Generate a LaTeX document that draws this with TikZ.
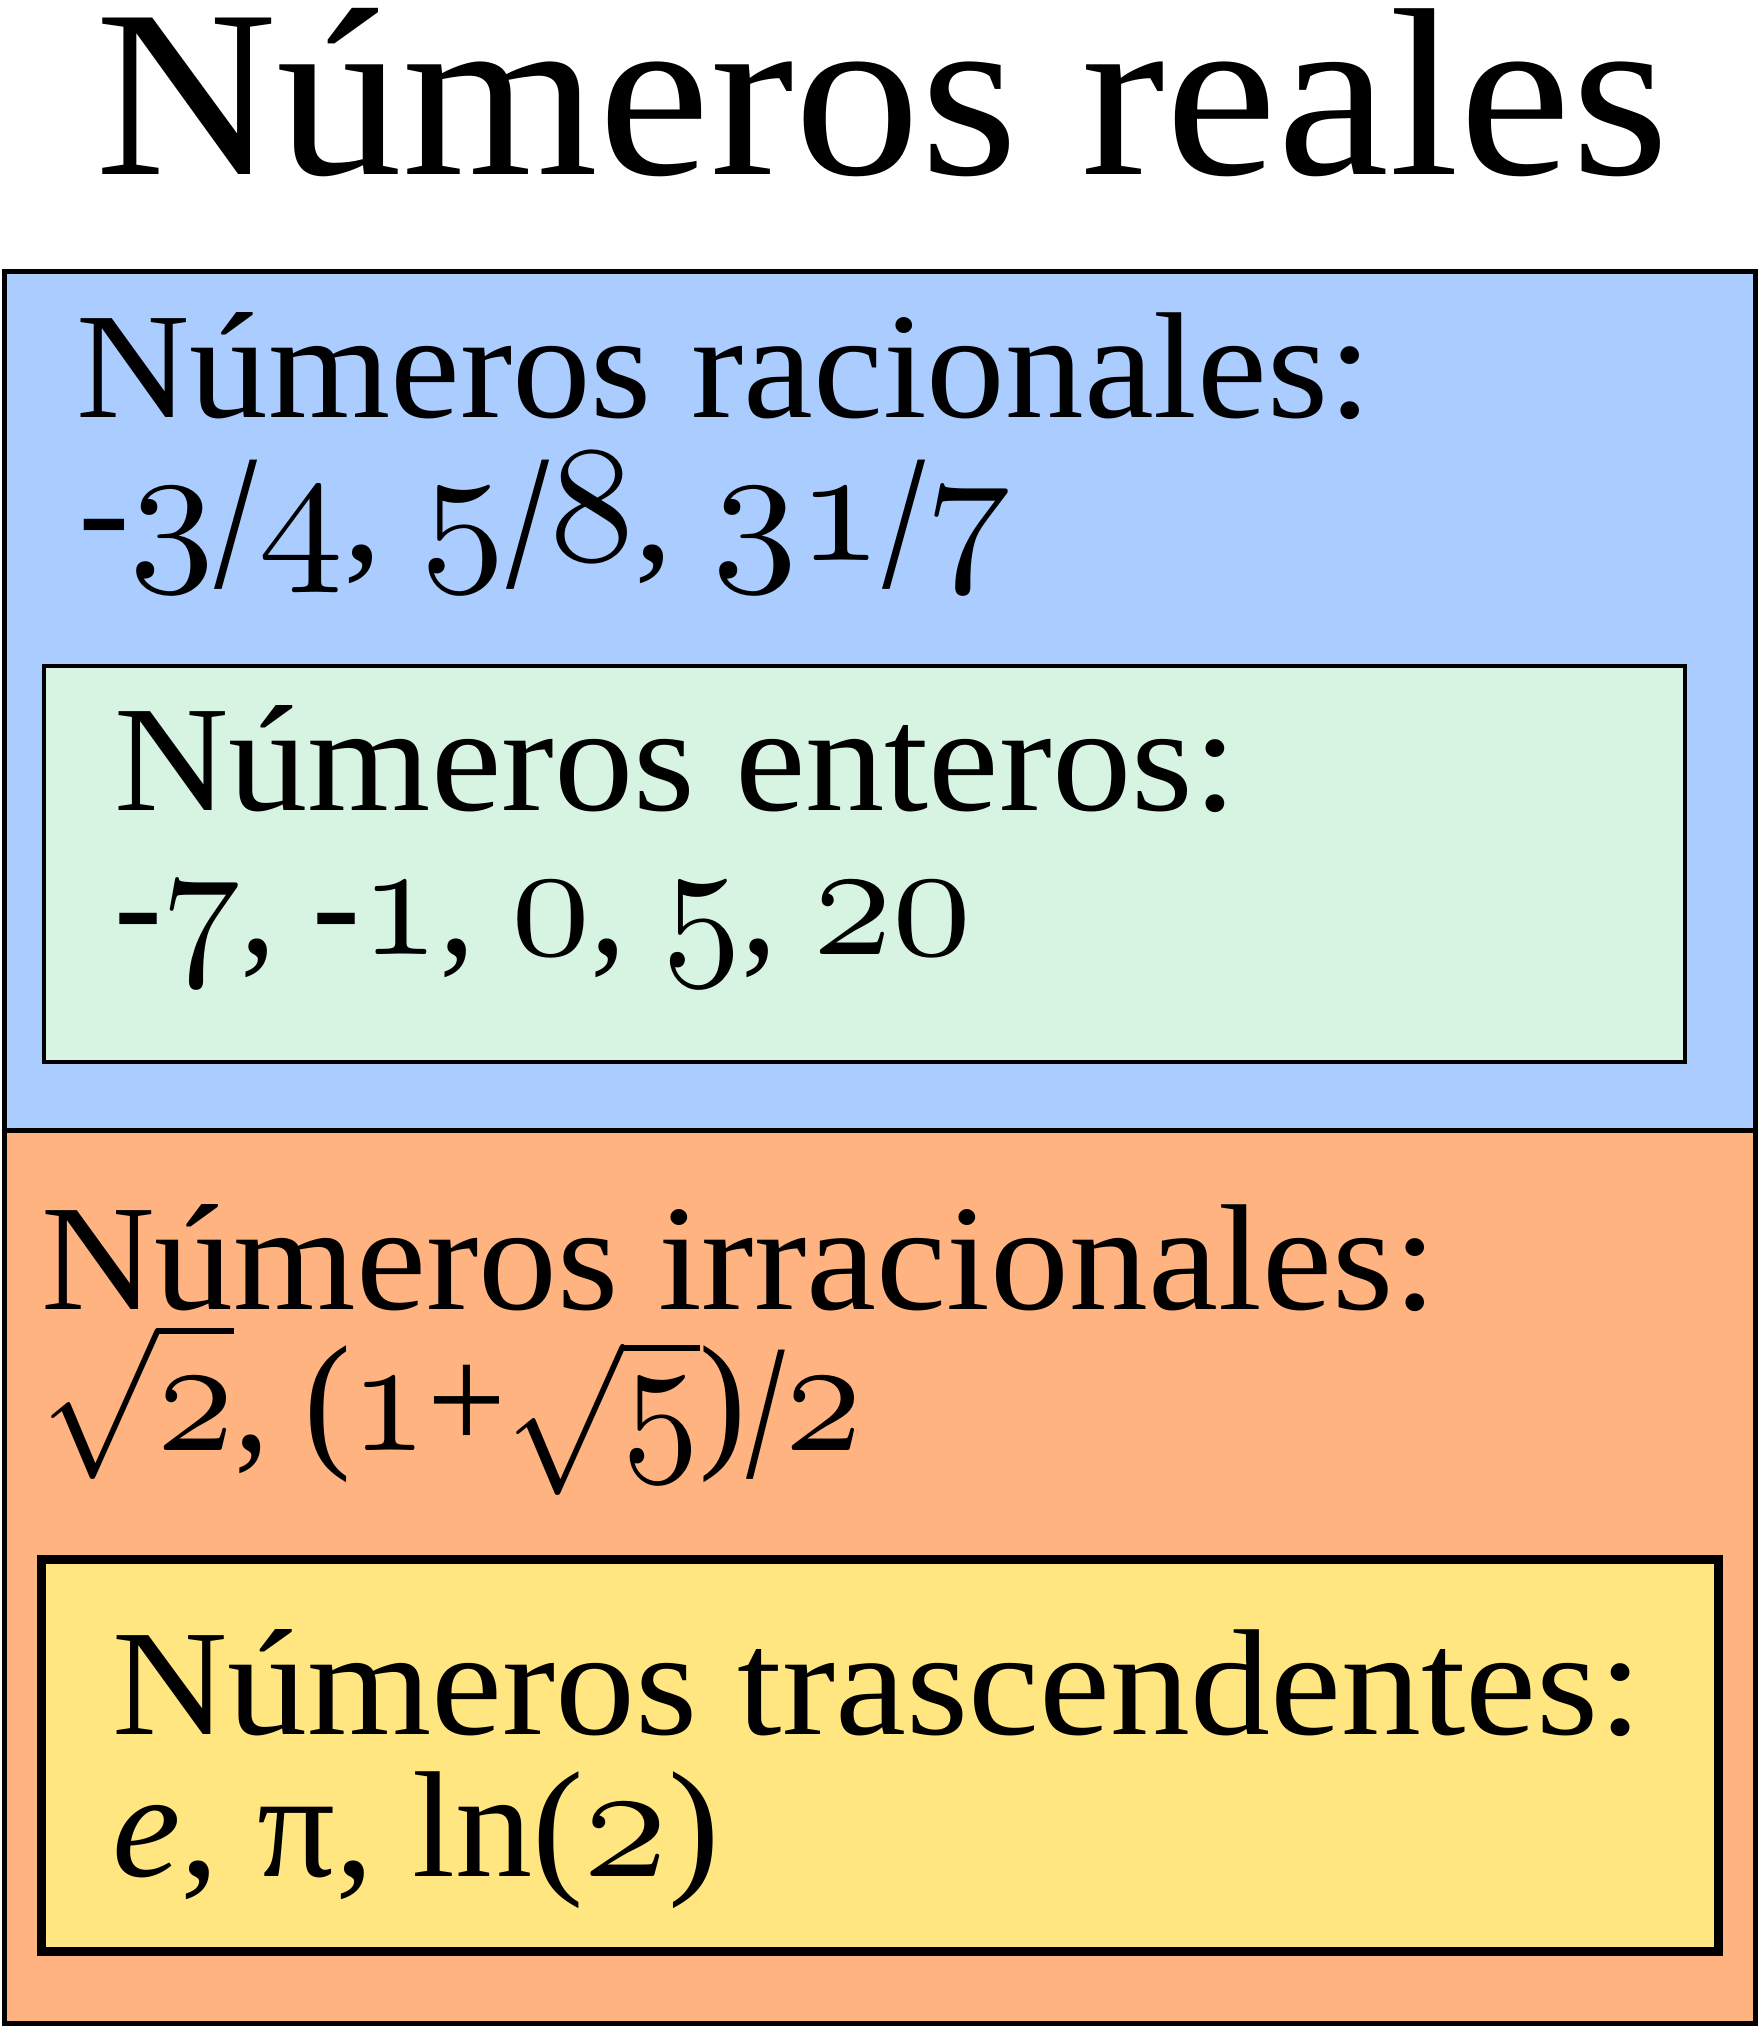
\documentclass[tikz,border=0pt]{standalone}
\usepackage{fontspec}
\setmainfont{Liberation Serif}
\usepackage{graphicx}
\definecolor{racblue}{HTML}{AACCFF}
\definecolor{entgreen}{HTML}{D7F4E3}
\definecolor{irrorange}{HTML}{FFB380}
\definecolor{trayellow}{HTML}{FFE680}
\newcommand\osn[1]{\scalebox{1.1}{\usefont{OML}{cmm}{m}{it}#1}}
\newcommand\sla{\raisebox{-1.8pt}{\scalebox{1}[1.28]{/}}}
\newcommand\rad[1]{$\sqrt{\rule{0pt}{5.2pt}\hbox{\osn{#1}}}$}
\newcommand\fitline[3]{\resizebox{#1pt}{\height}{\scalebox{#2}{#3}}}
\tikzset{
  lbl/.style={inner sep=0pt, outer sep=0pt, anchor=base west, text=black},
  setbox/.style={draw=black, line width=5pt},
  subbox/.style={draw=black, line width=4pt},
  thickbox/.style={draw=black, line width=9pt}
}
\begin{document}
\begin{tikzpicture}[x=1pt,y=-1pt]
\useasboundingbox (0,0) rectangle (1759,2028);
\fill[white] (0,0) rectangle (1759,2028);
% boxes
\path[setbox, fill=racblue] (4,271) rectangle (1755,1130);
\path[subbox, fill=entgreen] (44,666) rectangle (1684.5,1061.5);
\path[setbox, fill=irrorange] (4,1130) rectangle (1755,2023);
\path[thickbox, fill=trayellow] (41.5,1559) rectangle (1718.5,1951);
% texts
\node[lbl] (title) at (95,175) {\fitline{1574}{23.9}{Números reales}};
\node[lbl] (rachead) at (76,417) {\fitline{1296}{15.1}{Números racionales:}};
\node[lbl] (racnums) at (78,560) {\fitline{933}{15.1}{-\osn{3}\sla\osn{4}, \osn{5}\sla\osn{8}, \osn{31}\sla\osn{7}}};
\node[lbl] (enthead) at (114,810) {\fitline{1123}{15.1}{Números enteros:}};
\node[lbl] (entnums) at (114,954) {\fitline{858}{15.1}{-\osn{7}, -\osn{1}, \osn{0}, \osn{5}, \osn{20}}};
\node[lbl] (irrhead) at (41,1309) {\fitline{1396}{15.1}{Números irracionales:}};
\node[lbl] (irrnums) at (41,1450) {\fitline{821}{15.1}{\rad{2}, (\osn{1}+\rad{5})\sla\osn{2}}};
\node[lbl] (trahead) at (112,1734) {\fitline{1531}{15.1}{Números trascendentes:}};
\node[lbl] (tranums) at (112,1876) {\fitline{608}{15.1}{\textit{e}, π, ln(\osn{2})}};
\end{tikzpicture}
\end{document}
